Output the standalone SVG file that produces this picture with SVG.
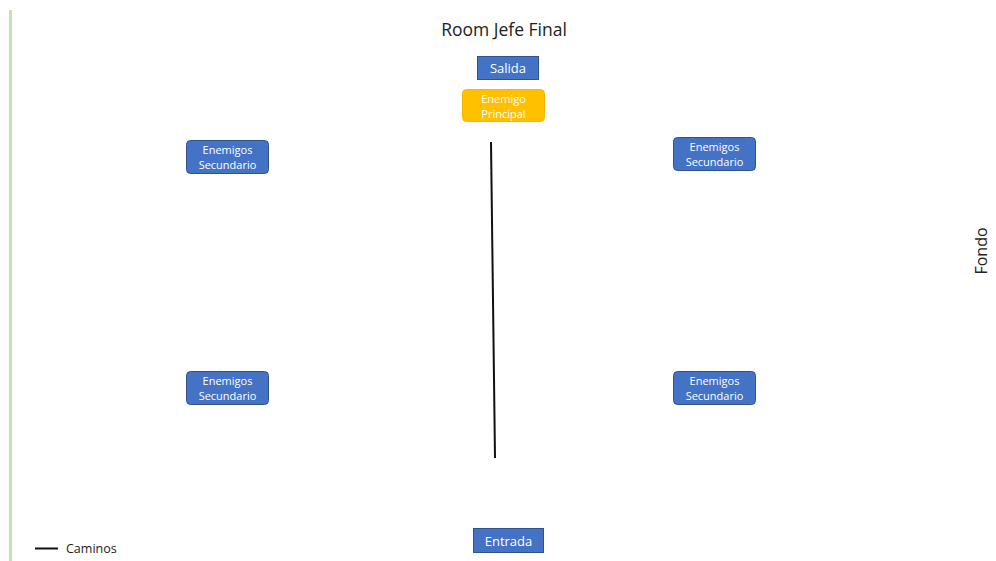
<svg xmlns="http://www.w3.org/2000/svg" width="996" height="561" viewBox="0 0 996 561">
<style>
.blue{fill:#4472C4;stroke:#2F528F;stroke-width:1}
.gold{fill:#FFC000;stroke:#F5B800;stroke-width:1}
.t{font-family:"Open Sans","Liberation Sans",sans-serif;fill:#fff;text-anchor:middle}
.s{font-size:11px}
.dark{font-family:"Open Sans","Liberation Sans",sans-serif;fill:#222}
</style>
<rect width="996" height="561" fill="#fff"/>
<line x1="10.5" y1="10" x2="10.5" y2="561" stroke="#C5E0B4" stroke-width="3"/>
<text id="title" x="504" y="36" class="dark" font-size="17.5" text-anchor="middle">Room Jefe Final</text>
<g id="salida"><rect class="blue" x="477.5" y="56.5" width="61" height="23"/><text class="t" x="508" y="73" font-size="13">Salida</text></g>
<g id="enemigo-principal"><rect class="gold" x="462.5" y="89.5" width="82" height="32" rx="4"/><text class="t s" x="503.5" y="103">Enemigo</text><text class="t s" x="503.5" y="118">Principal</text></g>
<g id="sec-lt"><rect class="blue" x="186.5" y="140.5" width="82" height="33" rx="4"/><text class="t s" x="227.5" y="154">Enemigos</text><text class="t s" x="227.5" y="169">Secundario</text></g>
<g id="sec-rt"><rect class="blue" x="673.5" y="137.5" width="82" height="33" rx="4"/><text class="t s" x="714.5" y="151">Enemigos</text><text class="t s" x="714.5" y="166">Secundario</text></g>
<g id="sec-lb"><rect class="blue" x="186.5" y="371.5" width="82" height="33" rx="4"/><text class="t s" x="227.5" y="385">Enemigos</text><text class="t s" x="227.5" y="400">Secundario</text></g>
<g id="sec-rb"><rect class="blue" x="673.5" y="371.5" width="82" height="33" rx="4"/><text class="t s" x="714.5" y="385">Enemigos</text><text class="t s" x="714.5" y="400">Secundario</text></g>
<g id="entrada"><rect class="blue" x="473.5" y="528.5" width="70" height="24"/><text class="t" x="508.5" y="546" font-size="13">Entrada</text></g>
<g id="connectors"><line x1="491" y1="142" x2="495" y2="458" stroke="#111" stroke-width="2"/></g>
<g id="legend"><line x1="35" y1="548.5" x2="58" y2="548.5" stroke="#111" stroke-width="2"/><text class="dark" x="66" y="553" font-size="12.5">Caminos</text></g>
<text id="fondo" class="dark" font-size="16" text-anchor="middle" transform="translate(987,251) rotate(-90)">Fondo</text>
</svg>
